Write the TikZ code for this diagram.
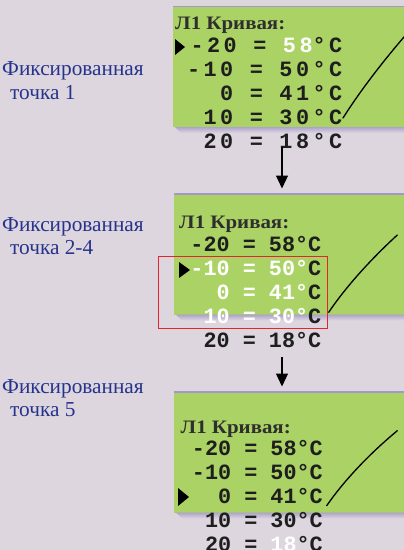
\documentclass[tikz,border=0pt]{standalone}
\usepackage{fontspec}
\usepackage{graphicx}
\setmainfont{Liberation Serif}
\newfontfamily\lcdfont{Liberation Mono}
\newfontfamily\lcdwide{Liberation Mono}[LetterSpace=16]
\usetikzlibrary{arrows.meta}
\definecolor{bg}{HTML}{DDD6DF}
\definecolor{lcd}{HTML}{AAD264}
\definecolor{rim}{HTML}{A597CC}
\definecolor{shade}{HTML}{AFA2CC}
\definecolor{navy}{HTML}{26338A}
\definecolor{frame}{HTML}{E3262B}
\definecolor{ink}{HTML}{1E1E1E}
\tikzset{
  lcdbox/.style={fill=lcd, inner sep=0pt, outer sep=0pt, anchor=north west,
    minimum width=240pt, minimum height=120.5pt},
  lcdline/.style={inner sep=0pt, anchor=base east, text=ink,
    font=\lcdfont\bfseries\fontsize{21.8}{24}\selectfont},
  lcdlinewide/.style={lcdline, font=\lcdwide\bfseries\fontsize{21.8}{24}\selectfont},
  lcdtitle/.style={inner sep=0pt, anchor=base west, text=black!82,
    font=\bfseries\fontsize{19}{22}\selectfont},
  caption/.style={inner sep=0pt, anchor=base west, text=navy,
    font=\fontsize{21.3}{25}\selectfont},
  curve/.style={line width=1.3pt, line cap=round},
  flow/.style={line width=1.1pt, -{Triangle[width=12pt,length=13pt]}, shorten >=5.5pt},
}
\newcommand{\wh}[1]{{\color{white}#1}}
\newcommand{\ttl}{\scalebox{1.1}[1]{Л1 Кривая:}}
\newcommand{\lcdshadow}[1]{%
  \shade[top color=shade, bottom color=bg] ([xshift=2pt]#1.south west) -- ([xshift=10pt]#1.south east) -- ([xshift=10pt,yshift=-6pt]#1.south east) -- ([xshift=8pt,yshift=-6pt]#1.south west) -- cycle;
  \draw[rim, line width=1.5pt] (#1.north west) -- ([xshift=10pt]#1.north east);}
\begin{document}
\begin{tikzpicture}[x=1pt,y=-1pt]
\fill[bg] (0,0) rectangle (404,550);
\useasboundingbox (0,0) rectangle (404,550);

% captions
\node[caption] (c1a) at (2,75) {Фиксированная};
\node[caption] (c1b) at (10,99) {точка 1};
\node[caption] (c2a) at (2,231) {Фиксированная};
\node[caption] (c2b) at (10,254) {точка 2-4};
\node[caption] (c3a) at (2,393) {Фиксированная};
\node[caption] (c3b) at (10,416) {точка 5};

% screen 1
\node[lcdbox] (box1) at (173,6.5) {};
\lcdshadow{box1}
\node[lcdtitle] (t1) at (175,29.5) {\ttl};
\node[lcdlinewide] (l1a) at (342.5,52.5) {-20 = \wh{58}°C};
\node[lcdlinewide] (l1b) at (342.5,76.5) {-10 = 50°C};
\node[lcdlinewide] (l1c) at (342.5,100.5) {0 = 41°C};
\node[lcdlinewide] (l1d) at (342.5,124.5) {10 = 30°C};
\node[lcdlinewide] (l1e) at (342.5,148.5) {20 = 18°C};
\fill[black] (175,39) -- (185,47) -- (175,55) -- cycle;
\draw[curve] (343,118) .. controls (357,96) and (377,68) .. (410,30);

% screen 2
\node[lcdbox] (box2) at (174,194) {};
\lcdshadow{box2}
\node[lcdtitle] (t2) at (179,228) {\ttl};
\node[lcdline] (l2a) at (321.5,251.5) {-20 = 58°C};
\node[lcdline] (l2b) at (321.5,275.5) {\wh{-10 = 50°}C};
\node[lcdline] (l2c) at (321.5,299.5) {\wh{0 = 41°}C};
\node[lcdline] (l2d) at (321.5,323.5) {\wh{10 = 30°}C};
\node[lcdline] (l2e) at (321.5,347.5) {20 = 18°C};
\fill[black] (179,262) -- (190,270) -- (179,278) -- cycle;
\draw[curve] (328.7,312.3) .. controls (345,288) and (370,260) .. (397.3,235);
\draw[frame, line width=1pt] (158,256) rectangle (327,328);

% screen 3
\node[lcdbox] (box3) at (174,392) {};
\lcdshadow{box3}
\node[lcdtitle] (t3) at (180.5,433) {\ttl};
\node[lcdline] (l3a) at (323,455) {-20 = 58°C};
\node[lcdline] (l3b) at (323,479) {-10 = 50°C};
\node[lcdline] (l3c) at (323,503) {0 = 41°C};
\node[lcdline] (l3d) at (323,527) {10 = 30°C};
\node[lcdline] (l3e) at (323,551) {20 = \wh{18}°C};
\fill[black] (178,488) -- (189,497) -- (178,506) -- cycle;
\draw[curve] (326.7,505.7) .. controls (343,482) and (368,455) .. (397.3,430.7);

% arrows
\coordinate (a1) at (282,147);
\coordinate (a2) at (282,357);
\draw[flow] (a1) -- (a1 |- box2.north);
\draw[flow] (a2) -- (a2 |- box3.north);
\end{tikzpicture}
\end{document}
